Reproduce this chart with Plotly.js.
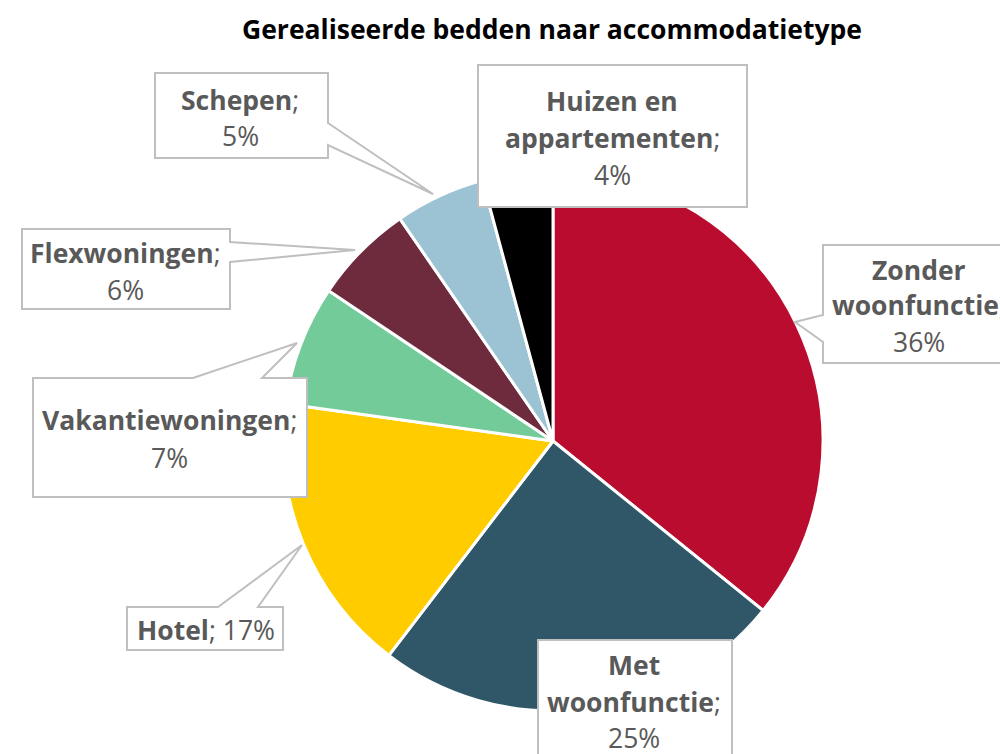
<!DOCTYPE html>
<html>
<head>
<meta charset="utf-8">
<script src="https://cdn.plot.ly/plotly-3.0.1.min.js"></script>
<style>html,body{margin:0;padding:0;background:#fff;}#chart{width:1000px;height:754px;}</style>
</head>
<body>
<div id="chart"></div>
<script>
// ---- data ----
const categories = ["Zonder woonfunctie", "Met woonfunctie", "Hotel", "Vakantiewoningen", "Flexwoningen", "Schepen", "Huizen en appartementen"];
const values = [35.8, 24.6, 16.8, 7.2, 6.0, 5.4, 4.2];
const colors = ["#BA0C2F", "#2F5767", "#FFCC00", "#72CB98", "#6E2B3E", "#9BC3D3", "#000000"];
// wrapped label lines as shown in the chart ("|" = line break, pct appended to last line or own line)
const labelWrap = ["Zonder|woonfunctie", "Met|woonfunctie", "Hotel", "Vakantiewoningen", "Flexwoningen", "Schepen", "Huizen en|appartementen"];
const pctOnSameLine = [false, false, true, false, false, false, false];

// ---- layout helpers (pixel -> paper) ----
const W = 1000, H = 754;
const px = x => x / W, py = y => 1 - y / H;

// callout boxes: rect + optional wedge (pixels)
const boxes = [
  {r:[823,245,1012,363], wedge:{side:"left", a:315, b:342, tip:[795,322]}, cx:919, lines:[270,305,342]},
  {r:[538,640,732,770], wedge:null, cx:634, lines:[665,702,738]},
  {r:[127,607,283,650], wedge:{side:"top", a:218, b:258, tip:[302,545]}, cx:206, lines:[630]},
  {r:[33,378,307,497], wedge:{side:"top", a:193, b:262, tip:[297,343]}, cx:169, lines:[420,458]},
  {r:[22,229,230,309], wedge:{side:"right", a:242, b:262, tip:[355,250]}, cx:125, lines:[253,290]},
  {r:[155,73,328,158], wedge:{side:"right", a:123, b:145, tip:[433,194]}, cx:240, lines:[100,136]},
  {r:[478,65,747,207], wedge:null, cx:612, lines:[101,138,175]}
];

function boxPath(b) {
  const [x0,y0,x1,y1] = b.r;
  let pts;
  const w = b.wedge;
  if (!w) pts = [[x0,y0],[x1,y0],[x1,y1],[x0,y1]];
  else if (w.side === "left") pts = [[x0,y0],[x1,y0],[x1,y1],[x0,y1],[x0,w.b],w.tip,[x0,w.a]];
  else if (w.side === "right") pts = [[x0,y0],[x1,y0],[x1,w.a],w.tip,[x1,w.b],[x1,y1],[x0,y1]];
  else if (w.side === "top") pts = [[x0,y0],[w.a,y0],w.tip,[w.b,y0],[x1,y0],[x1,y1],[x0,y1]];
  return "M" + pts.map(p => px(p[0]).toFixed(5) + "," + py(p[1]).toFixed(5)).join("L") + "Z";
}

const shapes = boxes.map(b => ({
  type: "path", xref: "paper", yref: "paper", path: boxPath(b),
  fillcolor: "#FFFFFF", line: {color: "#BFBFBF", width: 2}, layer: "above"
}));

const annotations = [];
categories.forEach((c, i) => {
  const pct = Math.round(values[i]) + "%";
  const parts = labelWrap[i].split("|");
  let lines = parts.map((p, k) => "<b>" + p + "</b>" + (k === parts.length - 1 ? ";" : ""));
  if (pctOnSameLine[i]) lines[lines.length - 1] += " " + pct; else lines.push(pct);
  const b = boxes[i];
  lines.forEach((t, k) => {
    annotations.push({
      xref: "paper", yref: "paper", x: px(b.cx), y: py(b.lines[k]),
      xanchor: "center", yanchor: "middle", showarrow: false, text: t,
      font: {family: "Open Sans", size: 26.5, color: "#595959"}
    });
  });
});

const trace = {
  type: "pie", labels: categories, values: values, sort: false,
  direction: "clockwise", rotation: 0,
  marker: {colors: colors, line: {color: "#FFFFFF", width: 3}},
  textinfo: "none", hoverinfo: "label+percent",
  domain: {x: [0.283, 0.823], y: [(H - 711) / H, (H - 171) / H]},
  showlegend: false
};

const layout = {
  width: W, height: H,
  margin: {l: 0, r: 0, t: 0, b: 0},
  paper_bgcolor: "#FFFFFF",
  title: {text: "<b>Gerealiseerde bedden naar accommodatietype</b>", x: 0.552, xref: "container", y: 1 - 30 / H, yref: "container", xanchor: "center", yanchor: "middle",
          font: {family: "Open Sans", size: 26.5, color: "#000000"}},
  shapes: shapes, annotations: annotations, showlegend: false
};

Plotly.newPlot("chart", [trace], layout, {displayModeBar: false, staticPlot: true});
</script>
</body>
</html>
